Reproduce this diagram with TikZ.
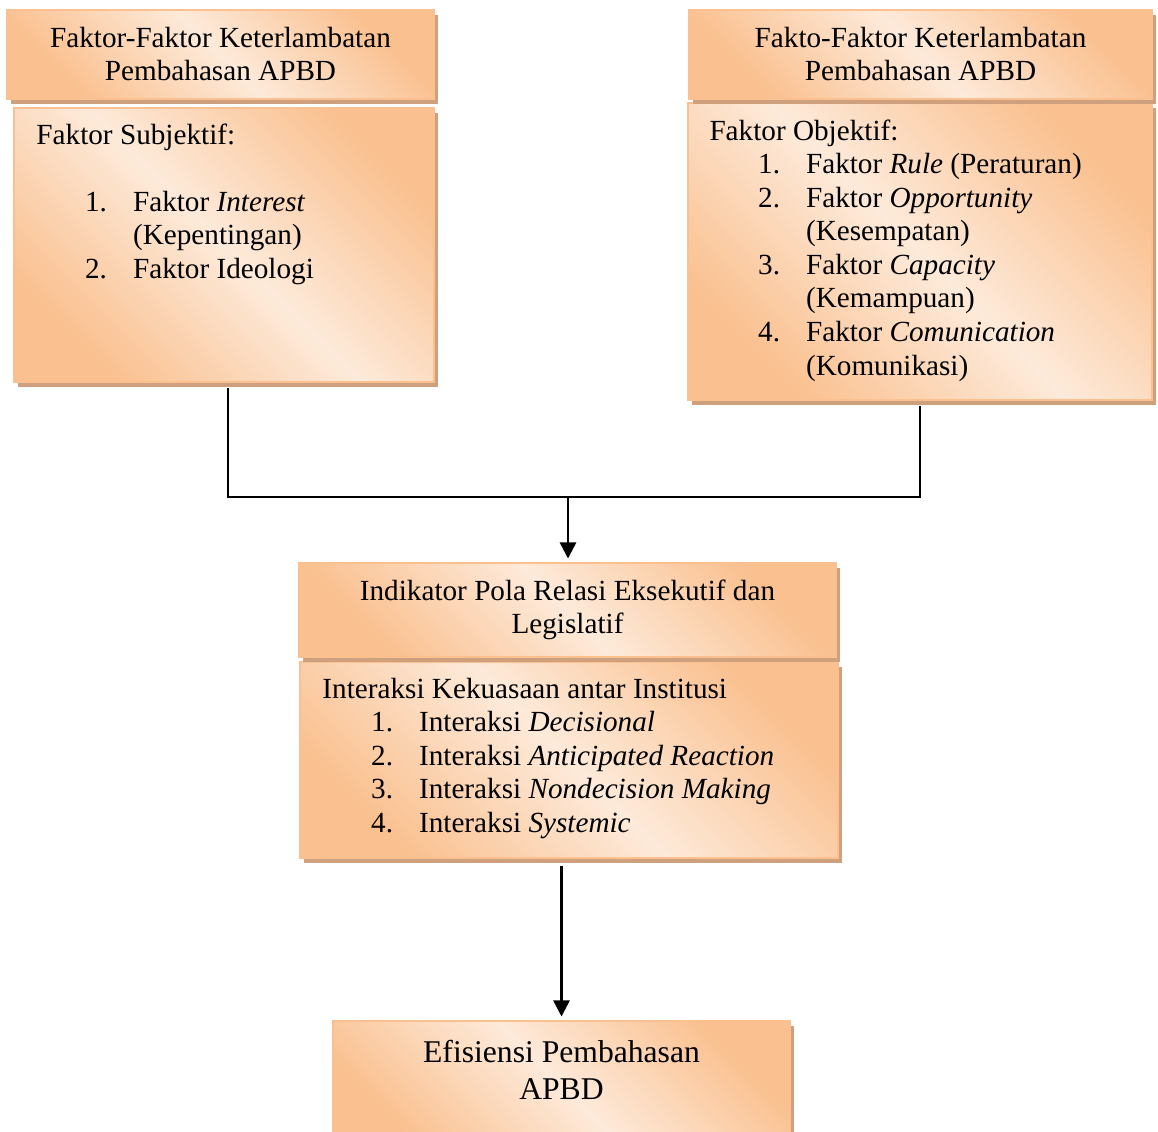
\documentclass[tikz,border=0pt]{standalone}
\usepackage{fontspec}
\setmainfont{Liberation Serif}
\usepackage{xcolor}
\usepackage{tikz}
\usetikzlibrary{arrows.meta, fit, shadows}

\definecolor{boxorange}{RGB}{250,192,143}
\definecolor{boxlight}{RGB}{253,234,218}
\definecolor{shadowtan}{RGB}{206,160,126}

\newcommand{\listline}[2]{\hspace*{20pt}\makebox[19.7pt][l]{#1}#2}
\newcommand{\leftlines}[1]{\begin{tabular}[t]{@{}l@{}}#1\end{tabular}}
\newcommand{\midlines}[1]{\begin{tabular}[t]{@{}c@{}}#1\end{tabular}}

\tikzset{
  panel/.style={rectangle, inner sep=0pt, draw=boxorange, line width=0.5pt,
    top color=boxorange, bottom color=boxorange, middle color=boxlight, shading angle=-45,
    drop shadow={shadow xshift=1.6pt, shadow yshift=-2.2pt, fill=shadowtan, opacity=1}},
  ttl/.style={font=\fontsize{12}{13.8}\selectfont, inner sep=0pt, anchor=base},
  txt/.style={font=\fontsize{12}{13.8}\selectfont, inner sep=0pt, anchor=base west},
  link/.style={line width=1pt},
  feed/.style={link, -{Triangle[length=6.6pt,width=6.6pt]}}
}

\begin{document}
\begin{tikzpicture}[x=0.411pt, y=-0.411pt]
\useasboundingbox (0,0) rectangle (1158,1131);
% two factor groups
\node[panel, fit={(14,108) (434,382)}] (lbody) {};
\node[panel, fit={(7,10) (434,99)}] (lhead) {};
\node[ttl] (ltitle) at (220.5,47) {\midlines{Faktor-Faktor Keterlambatan\\Pembahasan APBD}};
\node[txt] (ltext) at (36,144) {\leftlines{Faktor Subjektif:\\ \mbox{}\\
  \listline{1.}{Faktor \textit{Interest}}\\
  \listline{}{(Kepentingan)}\\
  \listline{2.}{Faktor Ideologi}}};
\node[panel, fit={(688,103) (1152,400)}] (rbody) {};
\node[panel, fit={(689,10) (1152,99)}] (rhead) {};
\node[ttl] (rtitle) at (920.5,47) {\midlines{Fakto-Faktor Keterlambatan\\Pembahasan APBD}};
\node[txt] (rtext) at (709,140) {\leftlines{Faktor Objektif:\\
  \listline{1.}{Faktor \textit{Rule} (Peraturan)}\\
  \listline{2.}{Faktor \textit{Opportunity}}\\
  \listline{}{(Kesempatan)}\\
  \listline{3.}{Faktor \textit{Capacity}}\\
  \listline{}{(Kemampuan)}\\
  \listline{4.}{Faktor \textit{Comunication}}\\
  \listline{}{(Komunikasi)}}};
% relation indicators
\node[panel, fit={(300,662) (838,858)}] (mbody) {};
\node[panel, fit={(299,563) (836,657)}] (mhead) {};
\node[ttl] (mtitle) at (567.5,600) {\midlines{Indikator Pola Relasi Eksekutif dan\\Legislatif}};
\node[txt] (mtext) at (322,698) {\leftlines{Interaksi Kekuasaan antar Institusi\\
  \listline{1.}{Interaksi \textit{Decisional}}\\
  \listline{2.}{Interaksi \textit{Anticipated Reaction}}\\
  \listline{3.}{Interaksi \textit{Nondecision Making}}\\
  \listline{4.}{Interaksi \textit{Systemic}}}};
% result
\node[panel, fit={(333,1021) (790,1150)}] (eff) {};
\node[ttl, font=\fontsize{13}{15.6}\selectfont] (efftext) at (561.5,1062) {\midlines{Efisiensi Pembahasan\\APBD}};
% connectors
\coordinate (join) at (568,497);
\draw[link, shorten <=2.4pt] ([xshift=1.6pt]lbody.south) |- (join);
\draw[link, shorten <=2.4pt] (rbody.south) |- (join);
\draw[feed, shorten >=1.6pt] (join) -- (join |- mhead.north);
\draw[feed, shorten <=3pt, shorten >=1.6pt] (mbody.south -| eff.north) -- (eff.north);
\end{tikzpicture}
\end{document}
